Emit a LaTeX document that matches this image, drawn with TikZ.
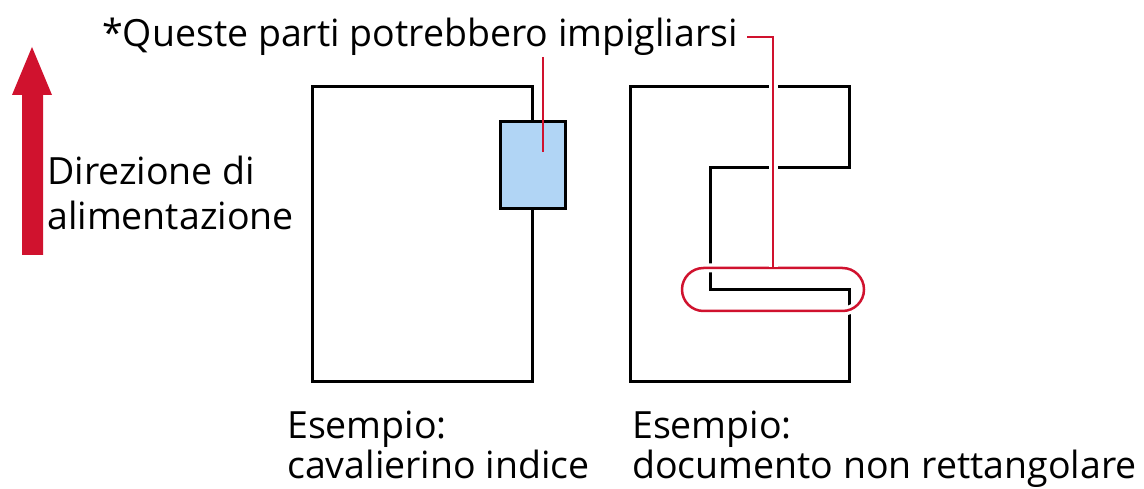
\documentclass[tikz,border=0pt]{standalone}
\usepackage{fontspec}
\setmainfont{Open Sans}
\usepackage{xcolor}
\usetikzlibrary{arrows.meta,positioning,calc}
\definecolor{jamred}{HTML}{D0122E}
\definecolor{tabblue}{HTML}{B1D5F5}
\tikzset{
  docLine/.style={draw=black, line width=3pt, line join=miter},
  calloutLine/.style={draw=jamred, line width=2.5pt},
  haloLine/.style={calloutLine, preaction={draw=white, line width=9pt}},
  bigText/.style={font=\fontsize{37.5}{40}\selectfont, inner sep=0pt, align=left}
}

\begin{document}
\begin{tikzpicture}[x=1pt, y=-1pt]
  \useasboundingbox (0,0) rectangle (1144,489);
  % feed direction
  \fill[jamred] (22,255) -- (22,95) -- (12,95) -- (32,47) -- (52,95) -- (43,95) -- (43,255) -- cycle;
  \node[bigText, font=\fontsize{37.5}{45}\selectfont, anchor=base west] (feed) at (47,230) {Direzione di\\alimentazione};
  \node[bigText, anchor=base west] (warn) at (102,47) {*Queste parti potrebbero impigliarsi};
  % document with index tab
  \draw[docLine] (532,122) -- (532,87) -- (312,87) -- (312,381) -- (532,381) -- (532,209);
  \node[docLine, fill=tabblue, minimum width=65pt, minimum height=87pt, inner sep=0pt] (tab) at (532.5,165.5) {};
  % non rectangular document
  \draw[docLine] (630,87) -- (849,87) -- (849,168) -- (710,168) -- (710,290) -- (849,290) -- (849,381) -- (630,381) -- cycle;
  \node[haloLine, rounded corners=21.5pt, minimum width=182pt, minimum height=43pt, inner sep=0pt] (hook) at (773,289.5) {};
  % callouts
  \coordinate (tabtip) at (543,57);
  \coordinate (hooktip) at (747,37);
  \draw[calloutLine] (tabtip) -- ($(tabtip |- tab.center)+(0,-13)$);
  \draw[haloLine] (hooktip) -| (hook.north);
  % captions
  \node[bigText, anchor=base west] (tabcap) at (287,478) {Esempio:\\cavalierino indice};
  \node[bigText, anchor=base west] (hookcap) at (632,478) {Esempio:\\documento non rettangolare};
\end{tikzpicture}
\end{document}
